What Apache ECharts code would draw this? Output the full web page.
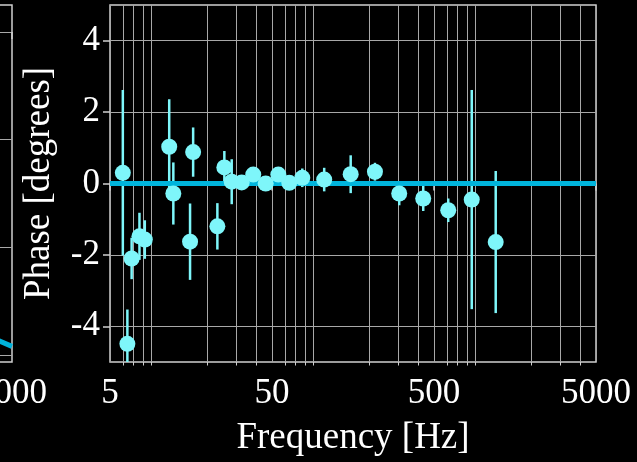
<!DOCTYPE html>
<html>
<head>
<meta charset="utf-8">
<script src="https://cdn.jsdelivr.net/npm/echarts@6/dist/echarts.min.js"></script>
<style>
  html, body { margin: 0; padding: 0; background: #000; }
  #chart { width: 637px; height: 462px; }
</style>
</head>
<body>
<div id="chart"></div>
<script>
// measured phase points (frequency in Hz, phase in degrees, error bar half-width)
const freqs = [6.0, 6.4, 6.8, 7.6, 8.2, 11.6, 12.3, 15.6, 16.3, 23.0, 25.4, 28.2, 32.5, 38.3,
  45.7, 54.7, 63.9, 76.9, 105, 153, 216, 305, 429, 612, 855, 1202]
const phase = [0.30, -4.49, -2.10, -1.48, -1.57, 1.03, -0.28, -1.63, 0.88, -1.20, 0.45, 0.05,
  0.03, 0.25, 0.00, 0.25, 0.02, 0.16, 0.11, 0.26, 0.33, -0.28, -0.42, -0.75, -0.45, -1.64]
const errs = [2.32, 0.96, 0.58, 0.66, 0.54, 1.33, 0.87, 1.07, 0.69, 0.65, 0.46, 0.63,
  0.2, 0.2, 0.15, 0.2, 0.15, 0.26, 0.33, 0.53, 0.25, 0.33, 0.35, 0.33, 3.07, 1.99]

// model line (zero phase)
const modelX = [5, 5000]
const modelY = [0, 0]

// tail of the neighbouring panel on the left
const leftX = [3500, 5000]
const leftY = [-2.82, -2.92]
const leftYTicks = [-3, -2, -1, 0]

// tick positions
const xMajor = [5, 50, 500, 5000]
const xMinor = [6, 7, 8, 9, 20, 30, 40, 60, 70, 80, 90, 200, 300, 400, 600, 700, 800, 900,
  2000, 3000, 4000]
const yTicks = [-4, -2, 0, 2, 4]

const FONT = 'Liberation Serif'
const gridColor = '#a8a8a8'
const spineColor = '#cfcfcf'
const pointColor = '#7ef6fa'
const lineColor = '#00b4dc'

const points = freqs.map((f, i) => [f, phase[i], errs[i]])
const plain = (v) => String(Math.round(v))

const chart = echarts.init(document.getElementById('chart'))

const option = {
  backgroundColor: '#000',
  animation: false,
  grid: [
    { left: 110, top: 5, width: 486, height: 357, show: true, borderColor: spineColor, borderWidth: 1.5,
      outerBoundsMode: 'none', containLabel: false },
    { left: -474, top: 5, width: 486, height: 357, show: true, borderColor: spineColor, borderWidth: 1.5,
      outerBoundsMode: 'none', containLabel: false },
  ],
  xAxis: [
    {
      type: 'log', gridIndex: 0, min: 5, max: 5000, position: 'bottom',
      name: 'Frequency [Hz]', nameLocation: 'middle', nameGap: 58,
      nameTextStyle: { color: '#fff', fontFamily: FONT, fontSize: 37 },
      axisLine: { show: false },
      axisTick: { customValues: xMajor, length: 7, lineStyle: { color: spineColor, width: 1.5 } },
      axisLabel: { customValues: xMajor, color: '#fff', fontFamily: FONT, fontSize: 35, margin: 14,
        showMinLabel: true, showMaxLabel: true, formatter: plain },
      splitLine: { show: true, lineStyle: { color: gridColor, width: 1 } },
    },
    {
      type: 'log', gridIndex: 0, min: 5, max: 5000, position: 'bottom',
      axisLine: { show: false },
      axisTick: { customValues: xMinor, length: 3.5, lineStyle: { color: spineColor, width: 1 } },
      axisLabel: { show: false },
      splitLine: { show: true, lineStyle: { color: gridColor, width: 1 } },
    },
    {
      type: 'log', gridIndex: 1, min: 5, max: 5000, position: 'bottom',
      axisLine: { show: false },
      axisTick: { customValues: xMajor, length: 7, lineStyle: { color: spineColor, width: 1.5 } },
      axisLabel: { customValues: xMajor, color: '#fff', fontFamily: FONT, fontSize: 35, margin: 14,
        showMinLabel: true, showMaxLabel: true, formatter: plain },
      splitLine: { show: false },
    },
  ],
  yAxis: [
    {
      type: 'value', gridIndex: 0, min: -5, max: 5,
      name: 'Phase [degrees]', nameLocation: 'middle', nameGap: 52,
      nameTextStyle: { color: '#fff', fontFamily: FONT, fontSize: 37 },
      axisLine: { show: false },
      axisTick: { customValues: yTicks, length: 7, lineStyle: { color: spineColor, width: 1.5 } },
      axisLabel: { customValues: yTicks, color: '#fff', fontFamily: FONT, fontSize: 35, margin: 10,
        formatter: (v) => String(v) },
      splitLine: { show: true, lineStyle: { color: gridColor, width: 1 } },
    },
    {
      type: 'value', gridIndex: 1, min: -3.065, max: 0.25,
      axisLine: { show: false },
      axisTick: { customValues: leftYTicks, length: 7 },
      axisLabel: { show: false },
      splitLine: { show: true, lineStyle: { color: gridColor, width: 1 } },
    },
  ],
  series: [
    {
      type: 'custom',
      xAxisIndex: 0, yAxisIndex: 0,
      clip: true,
      z: 2,
      data: points,
      renderItem: (params, api) => {
        const f = api.value(0)
        const v = api.value(1)
        const e = api.value(2)
        const top = api.coord([f, v + e])
        const bot = api.coord([f, v - e])
        return {
          type: 'line',
          shape: { x1: top[0], y1: top[1], x2: bot[0], y2: bot[1] },
          style: { stroke: pointColor, lineWidth: 2.5 },
        }
      },
    },
    {
      type: 'line',
      xAxisIndex: 0, yAxisIndex: 0,
      z: 3,
      data: modelX.map((x, i) => [x, modelY[i]]),
      showSymbol: false,
      lineStyle: { color: lineColor, width: 5 },
    },
    {
      type: 'scatter',
      xAxisIndex: 0, yAxisIndex: 0,
      z: 4,
      data: points.map((p) => [p[0], p[1]]),
      symbolSize: 16,
      itemStyle: { color: pointColor, opacity: 1 },
    },
    {
      type: 'line',
      xAxisIndex: 2, yAxisIndex: 1,
      data: leftX.map((x, i) => [x, leftY[i]]),
      showSymbol: false,
      lineStyle: { color: lineColor, width: 5 },
    },
  ],
}

chart.setOption(option)
</script>
</body>
</html>
